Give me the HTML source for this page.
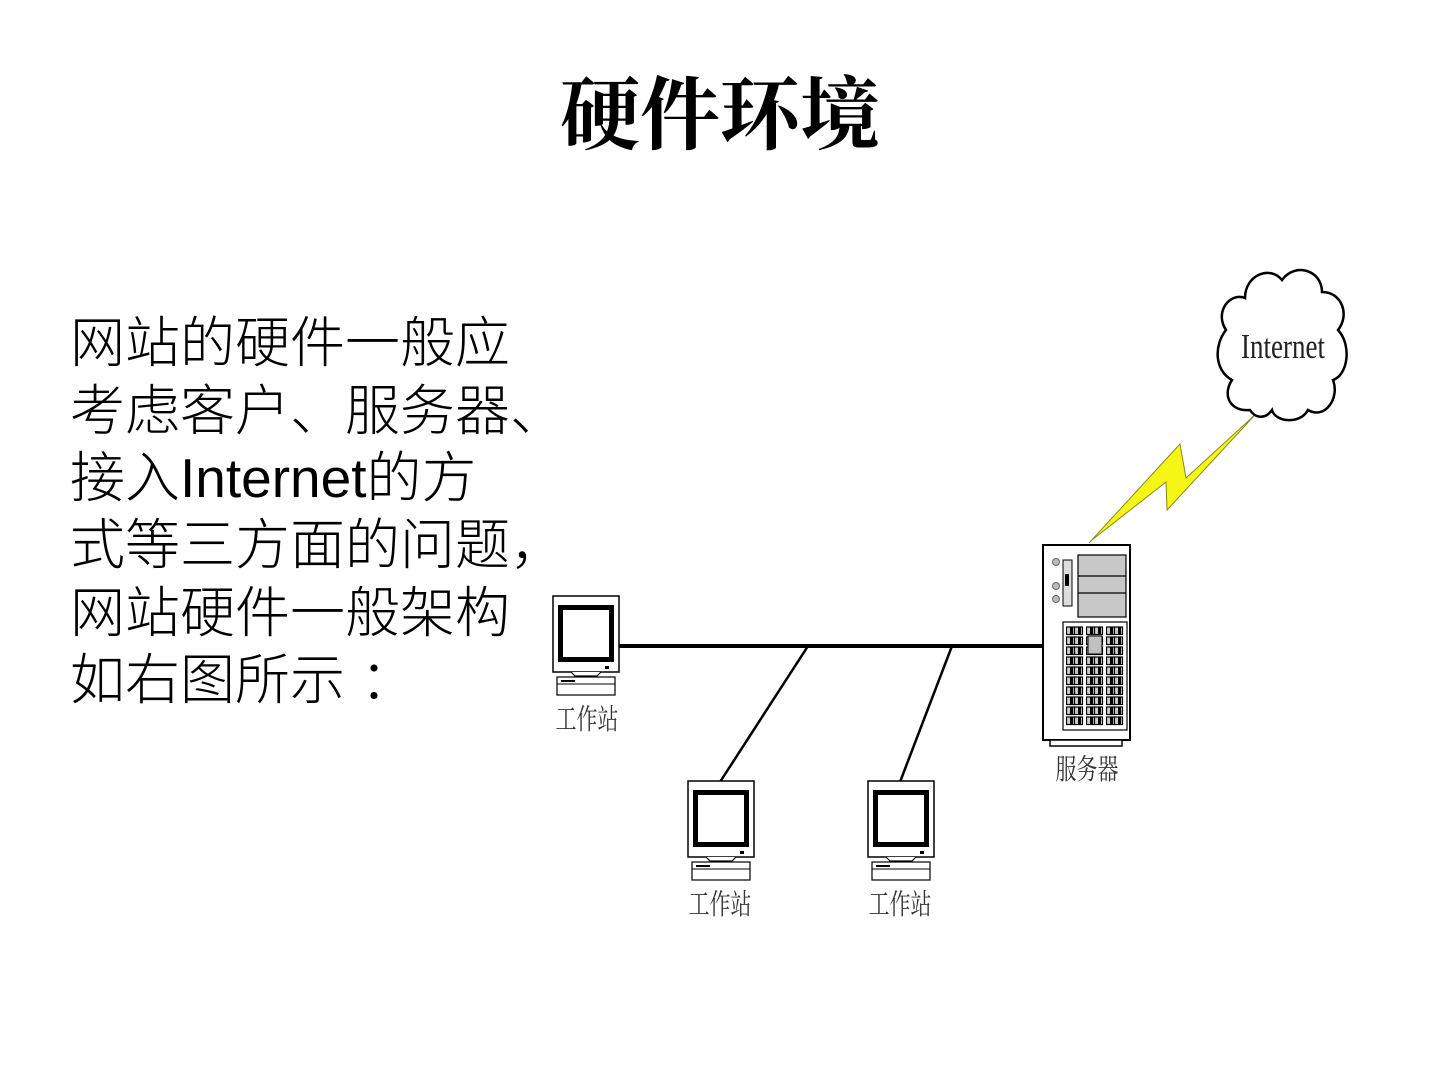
<!DOCTYPE html>
<html><head><meta charset="utf-8"><style>
html,body{margin:0;padding:0;background:#fff;width:1440px;height:1080px;overflow:hidden}
svg{display:block}
</style></head><body>
<svg width="1440" height="1080" viewBox="0 0 1440 1080" xmlns="http://www.w3.org/2000/svg">
<defs>
<pattern id="grid" x="1066" y="626" width="20" height="10" patternUnits="userSpaceOnUse">
<rect x="0.5" y="1" width="8" height="7.5" fill="#ccc" stroke="#000" stroke-width="1.2"/>
<rect x="8.5" y="1" width="8" height="7.5" fill="#ccc" stroke="#000" stroke-width="1.2"/>
<rect x="4" y="1" width="3" height="7.5" fill="#000"/>
<rect x="12" y="1" width="3" height="7.5" fill="#000"/>
</pattern>
<g id="mon">
<rect x="0" y="0" width="66" height="76" fill="#fff" stroke="#000" stroke-width="1.5"/>
<rect x="5" y="9" width="56" height="57" fill="#000"/>
<rect x="10" y="14" width="46" height="47" fill="#fff"/>
<rect x="52" y="70" width="4" height="3" fill="#000"/>
<path d="M18 76 L22 80 L44 80 L48 76" fill="#fff" stroke="#000" stroke-width="1.2"/>
<rect x="4" y="81" width="58" height="18" fill="#fff" stroke="#000" stroke-width="1.2"/>
<line x1="4" y1="88" x2="62" y2="88" stroke="#000" stroke-width="1"/>
<rect x="8" y="84" width="14" height="2" fill="#000"/>
</g>
</defs>

<text x="720" y="143" text-anchor="middle" font-family="'Liberation Serif','Noto Serif CJK SC',serif" font-weight="bold" font-size="80">硬件环境</text>

<g font-family="'Liberation Sans','Noto Sans CJK SC',sans-serif" font-size="55" font-weight="300" fill="#000">
<text x="70" y="362">网站的硬件一般应</text>
<text x="70" y="430">考虑客户、服务器、</text>
<text x="70" y="497">接入Internet的方</text>
<text x="70" y="564">式等三方面的问题，</text>
<text x="70" y="632">网站硬件一般架构</text>
<text x="70" y="699">如右图所示 ：</text>
</g>

<line x1="618" y1="646" x2="1044" y2="646" stroke="#000" stroke-width="4"/>
<line x1="808" y1="646" x2="720" y2="782" stroke="#000" stroke-width="2.5"/>
<line x1="952" y1="646" x2="900" y2="782" stroke="#000" stroke-width="2.5"/>

<use href="#mon" x="553" y="596"/>
<use href="#mon" x="688" y="781"/>
<use href="#mon" x="868" y="781"/>

<g font-family="'Liberation Serif','Noto Serif CJK SC',serif" font-size="21" fill="#333" text-anchor="middle">
<text transform="translate(587,729) scale(1,1.35)">工作站</text>
<text transform="translate(720,914) scale(1,1.35)">工作站</text>
<text transform="translate(900,914) scale(1,1.35)">工作站</text>
<text transform="translate(1087,779) scale(1,1.35)">服务器</text>
</g>

<rect x="1043" y="545" width="87" height="195" fill="#fff" stroke="#000" stroke-width="2"/>
<rect x="1050" y="740" width="72" height="6" fill="#fff" stroke="#000" stroke-width="1.5"/>
<rect x="1078" y="555" width="48" height="62" fill="#c8c8c8" stroke="#000" stroke-width="1.2"/>
<line x1="1078" y1="576" x2="1126" y2="576" stroke="#000" stroke-width="1.2"/>
<line x1="1078" y1="593" x2="1126" y2="593" stroke="#000" stroke-width="1.2"/>
<circle cx="1056" cy="562" r="3.5" fill="#bbb" stroke="#666"/>
<circle cx="1056" cy="586" r="3.5" fill="#bbb" stroke="#666"/>
<circle cx="1056" cy="599" r="3.5" fill="#bbb" stroke="#666"/>
<rect x="1063" y="560" width="9" height="46" fill="#ddd" stroke="#000" stroke-width="1"/>
<rect x="1065" y="574" width="4" height="12" fill="#000"/>
<rect x="1063" y="622" width="64" height="108" fill="#fff" stroke="#000" stroke-width="1.2"/>
<rect x="1066" y="626" width="58" height="100" fill="url(#grid)"/>
<rect x="1088" y="636" width="14" height="18" fill="#c0c0c0" stroke="#000" stroke-width="1"/>

<polygon points="1257,413 1186,478 1180,444 1089,543 1092,540 1166,482 1167,510 1254,416" fill="#f5f516" stroke="#8a8a20" stroke-width="1"/>

<path d="M1250,410 C1230,412 1222,395 1232,380 C1214,370 1214,345 1226,330 C1214,312 1230,292 1245,298 C1245,275 1270,265 1282,280 C1295,262 1322,270 1322,292 C1342,292 1350,315 1338,330 C1352,345 1348,375 1333,380 C1340,398 1325,420 1308,410 C1300,425 1275,422 1272,410 C1265,420 1255,418 1250,410 Z" fill="#fff" stroke="#000" stroke-width="2.5"/>
<text transform="translate(1283,358) scale(0.9,1.15)" text-anchor="middle" font-family="'Liberation Serif',serif" font-size="30" fill="#222">Internet</text>
</svg>
</body></html>
